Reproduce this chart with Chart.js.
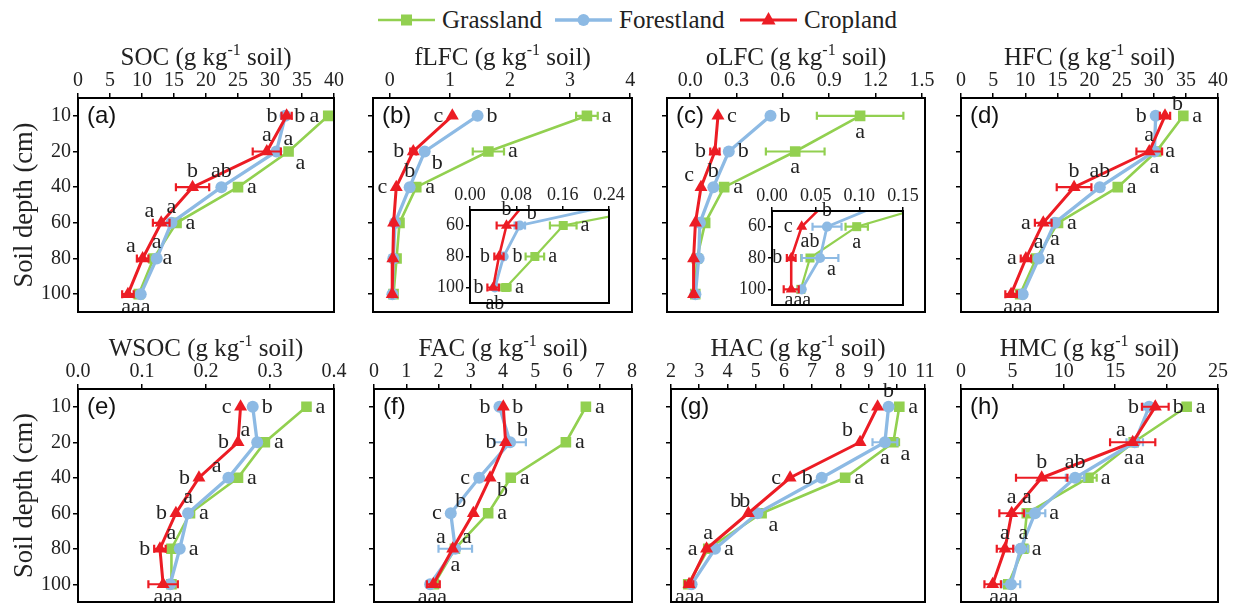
<!DOCTYPE html>
<html>
<head>
<meta charset="utf-8">
<script src="https://cdn.jsdelivr.net/npm/chart.js@4.4.0/dist/chart.umd.min.js"></script>
<style>
  body { margin: 0; background: #fff; width: 1236px; height: 605px; position: relative; overflow: hidden; }
  canvas { position: absolute; }
  #legend { position: absolute; left: 0; top: 0; }
</style>
</head>
<body>
<svg id="legend" width="1236" height="40"></svg>
<script>
// ---- data ----
const depths = [10, 20, 40, 60, 80, 100];
const landUses = ['Grassland', 'Forestland', 'Cropland'];

// every block: [Grassland, Forestland, Cropland]
const soc = [[39.1, 32.9, 25.0, 15.4, 11.8, 9.5], [32.4, 31.0, 22.4, 14.6, 12.3, 9.8], [32.6, 29.5, 17.9, 13.0, 10.1, 7.8]];
const socErr = [[0, 0, 0, 0, 0, 0], [0, 0, 0, 0, 0, 0], [0.8, 2.2, 2.6, 1.3, 0.9, 0.9]];
const socSig = [['a', 'a', 'a', 'a', 'a', 'a'], ['b', 'a', 'ab', 'a', 'a', 'a'], ['b', 'a', 'b', 'a', 'a', 'a']];

const flfc = [[3.28, 1.64, 0.44, 0.161, 0.112, 0.062], [1.46, 0.58, 0.33, 0.086, 0.058, 0.043], [1.04, 0.39, 0.107, 0.063, 0.050, 0.040]];
const flfcErr = [[0.18, 0.26, 0, 0.023, 0.016, 0.008], [0, 0, 0, 0.009, 0.004, 0], [0, 0.05, 0, 0.017, 0.008, 0.01]];
const flfcSig = [['a', 'a', 'a', 'a', 'a', 'a'], ['b', 'b', 'b', 'b', 'b', 'ab'], ['c', 'b', 'c', 'b', 'b', 'b']];

const olfc = [[1.10, 0.68, 0.22, 0.097, 0.0435, 0.033], [0.52, 0.25, 0.15, 0.063, 0.055, 0.034], [0.18, 0.16, 0.07, 0.034, 0.022, 0.022]];
const olfcErr = [[0.28, 0.19, 0, 0.0128, 0.010, 0], [0, 0, 0, 0.0166, 0.021, 0], [0, 0.03, 0, 0, 0.005, 0.0086]];
const olfcSig = [['a', 'a', 'a', 'a', 'ab', 'a'], ['b', 'b', 'b', 'b', 'a', 'a'], ['c', 'b', 'c', 'c', 'b', 'a']];

const hfc = [[34.6, 30.4, 24.4, 15.1, 11.7, 9.2], [30.3, 30.1, 21.6, 14.6, 12.1, 9.6], [31.75, 29.3, 17.6, 12.8, 10.1, 7.8]];
const hfcErr = [[0, 0, 0, 0, 0, 0], [0, 0, 0, 0, 0, 0], [0.8, 2.0, 2.7, 1.3, 0.8, 0.9]];
const hfcSig = [['a', 'a', 'a', 'a', 'a', 'a'], ['b', 'a', 'ab', 'a', 'a', 'a'], ['b', 'a', 'b', 'a', 'a', 'a']];

const wsoc = [[0.357, 0.292, 0.25, 0.175, 0.146, 0.146], [0.273, 0.28, 0.235, 0.172, 0.159, 0.144], [0.254, 0.250, 0.189, 0.153, 0.128, 0.133]];
const wsocErr = [[0, 0, 0, 0, 0, 0], [0, 0, 0, 0, 0, 0], [0, 0, 0, 0, 0.009, 0.023]];
const wsocSig = [['a', 'a', 'a', 'a', 'a', 'a'], ['b', 'a', 'a', 'a', 'a', 'a'], ['c', 'b', 'b', 'b', 'b', 'a']];

const fac = [[6.57, 5.95, 4.24, 3.54, 2.51, 1.86], [3.89, 4.22, 3.26, 2.38, 2.52, 1.74], [4.01, 4.08, 3.60, 3.08, 2.44, 1.84]];
const facErr = [[0, 0, 0, 0, 0, 0], [0, 0.49, 0, 0, 0.52, 0.1], [0, 0, 0, 0, 0, 0.2]];
const facSig = [['a', 'a', 'a', 'a', 'a', 'a'], ['b', 'b', 'c', 'c', 'a', 'a'], ['b', 'b', 'b', 'b', 'a', 'a']];

const hac = [[10.09, 9.88, 8.17, 5.21, 3.32, 2.61], [9.71, 9.58, 7.34, 5.06, 3.56, 2.73], [9.32, 8.70, 6.22, 4.74, 3.26, 2.64]];
const hacErr = [[0, 0.2, 0, 0, 0, 0], [0, 0.44, 0, 0, 0, 0], [0, 0, 0, 0, 0, 0.15]];
const hacSig = [['a', 'a', 'a', 'a', 'a', 'a'], ['b', 'a', 'b', 'b', 'a', 'a'], ['c', 'b', 'c', 'b', 'a', 'a']];

const hmc = [[21.95, 16.8, 12.4, 6.4, 6.06, 4.6], [18.3, 16.9, 11.1, 7.2, 5.8, 4.86], [18.9, 16.7, 7.85, 4.93, 4.28, 3.08]];
const hmcErr = [[0, 0, 0.8, 0, 0.5, 0], [0.6, 0.8, 0.9, 1.0, 0.7, 0.9], [1.3, 2.2, 2.5, 1.2, 0.8, 0.8]];
const hmcSig = [['a', 'a', 'a', 'a', 'a', 'a'], ['b', 'a', 'ab', 'a', 'a', 'a'], ['b', 'a', 'b', 'a', 'a', 'a']];

// tick labels
const depthLabels = depths.map(String);
const socTicks = [0, 5, 10, 15, 20, 25, 30, 35, 40];
const flfcTicks = [0, 1, 2, 3, 4];
const flfcInsetTicks = [0, 0.08, 0.16, 0.24];
const olfcTicks = [0, 0.3, 0.6, 0.9, 1.2, 1.5];
const olfcInsetTicks = [0, 0.05, 0.10, 0.15];
const hfcTicks = [0, 5, 10, 15, 20, 25, 30, 35, 40];
const wsocTicks = [0, 0.1, 0.2, 0.3, 0.4];
const facTicks = [0, 1, 2, 3, 4, 5, 6, 7, 8];
const hacTicks = [2, 3, 4, 5, 6, 7, 8, 9, 10, 11];
const hmcTicks = [0, 5, 10, 15, 20, 25];

// ---- styles ----
const COLORS = ['#92D050', '#8DBAE4', '#EC1C24'];
const P_STYLE = ['rect', 'circle', 'triangle'];
const P_RADIUS = [7.5, 6, 7.5];
const L_WIDTH = [2.6, 3.3, 3];
const SERIF = '"Liberation Serif", "Times New Roman", serif';

// letter placement: r l t b tl tr bl br b- b+ B(grouped under the row)
const E = ['', '', ''];
const panels = [
  { name: 'SOC', tag: '(a)', box: [78, 98, 256, 214], xr: [0, 40], ticks: socTicks, dec: 0, vals: soc, errs: socErr, sig: socSig, yLab: true,
    pos: [['l', 'br', 'r', 'r', 'r', 'B'], ['r', 'tr', 't', 't', 't', 'B'], ['l', 't', 't', 'tl', 'tl', 'B']] },
  { name: 'fLFC', tag: '(b)', box: [373, 98, 259, 214], xr: [-0.28, 4.03], ticks: flfcTicks, dec: 0, vals: flfc, errs: flfcErr, sig: flfcSig,
    pos: [['r', 'r', 'r', ...E], ['r', 'br', 't', ...E], ['l', 'l', 'l', ...E]],
    inset: { box: [470, 210, 139, 93], xr: [0, 0.24], ticks: flfcInsetTicks, dec: 2,
      pos: [[...E, 'r', 'r', 'r'], [...E, 'tr', 'r', 'b'], [...E, 't', 'l', 'l']] } },
  { name: 'oLFC', tag: '(c)', box: [667, 98, 258, 214], xr: [-0.15, 1.52], ticks: olfcTicks, dec: 1, vals: olfc, errs: olfcErr, sig: olfcSig,
    pos: [['b', 'b', 'r', ...E], ['r', 'r', 't', ...E], ['r', 'l', 'tl', ...E]],
    inset: { box: [772, 211, 131, 94], xr: [0, 0.15], ticks: olfcInsetTicks, dec: 2,
      pos: [[...E, 'b', 't', 'B'], [...E, 't', 'br', 'B'], [...E, 'l', 'l', 'B']] } },
  { name: 'HFC', tag: '(d)', box: [961, 98, 257, 214], xr: [0, 40], ticks: hfcTicks, dec: 0, vals: hfc, errs: hfcErr, sig: hfcSig,
    pos: [['r', 'r', 'r', 'r', 'r', 'B'], ['l', 'b', 't', 'b', 't', 'B'], ['tr', 't', 't', 'l', 'l', 'B']] },
  { name: 'WSOC', tag: '(e)', box: [78, 389, 256, 213], xr: [0, 0.4], ticks: wsocTicks, dec: 1, vals: wsoc, errs: wsocErr, sig: wsocSig, yLab: true,
    pos: [['r', 'r', 'r', 'r', 't', 'B'], ['r', 'tl', 'tl', 't', 'r', 'B'], ['l', 'l', 'l', 'l', 'l', 'B']] },
  { name: 'FAC', tag: '(f)', box: [374, 389, 258, 213], xr: [0, 8], ticks: facTicks, dec: 0, vals: fac, errs: facErr, sig: facSig,
    pos: [['r', 'r', 'r', 'r', 'tr', 'B'], ['l', 'tr', 'l', 'l', 'b', 'B'], ['r', 'l', 'br', 'tl', 'tl', 'B']] },
  { name: 'HAC', tag: '(g)', box: [671, 389, 254, 213], xr: [2, 11], ticks: hacTicks, dec: 0, vals: hac, errs: hacErr, sig: hacSig,
    pos: [['r', 'br', 'r', 'br', 't', 'B'], ['t', 'b', 'l', 'tl', 'r', 'B'], ['l', 'tl', 'l', 'tl', 'l', 'B']] },
  { name: 'HMC', tag: '(h)', box: [961, 389, 257, 213], xr: [0, 25], ticks: hmcTicks, dec: 0, vals: hmc, errs: hmcErr, sig: hmcSig,
    pos: [['r', 'b+', 'r', 't', 't', 'B'], ['l', 'b-', 't', 'r', 'r', 'B'], ['r', 'tl', 't', 't', 't', 'B']] },
];

// ---- legend ----
(function () {
  const svg = document.getElementById('legend');
  const xs = [378, 555, 740];
  let h = '';
  landUses.forEach((n, k) => {
    const x = xs[k], c = COLORS[k], y = 20;
    h += `<line x1="${x}" y1="${y}" x2="${x + 57}" y2="${y}" stroke="${c}" stroke-width="${L_WIDTH[k]}"/>`;
    const mx = x + 28.5;
    if (k === 0) h += `<rect x="${mx - 5.5}" y="${y - 5.5}" width="11" height="11" fill="${c}"/>`;
    if (k === 1) h += `<circle cx="${mx}" cy="${y}" r="6" fill="${c}"/>`;
    if (k === 2) h += `<polygon points="${mx},${y - 8} ${mx + 7},${y + 4.5} ${mx - 7},${y + 4.5}" fill="${c}"/>`;
    h += `<text x="${x + 64}" y="${y + 8}" style='font-family:${SERIF};font-size:25px' fill="#222">${n}</text>`;
  });
  svg.innerHTML = h;
})();

function drawTitle(ctx, name, cx, cy) {
  const fs = 25;
  const a = name + ' (g kg', b = '-1', c = ' soil)';
  const big = fs + 'px ' + SERIF, small = Math.round(fs * 0.62) + 'px ' + SERIF;
  ctx.font = big; const wa = ctx.measureText(a).width, wc = ctx.measureText(c).width;
  ctx.font = small; const wb = ctx.measureText(b).width;
  let x = cx - (wa + wb + wc) / 2;
  const base = cy + fs * 0.3;
  ctx.fillStyle = '#222'; ctx.textAlign = 'left'; ctx.textBaseline = 'alphabetic';
  ctx.font = big; ctx.fillText(a, x, base); x += wa;
  ctx.font = small; ctx.fillText(b, x, base - fs * 0.38); x += wb;
  ctx.font = big; ctx.fillText(c, x, base);
}

function decoPlugin(p, isInset, pos) {
  return {
    id: 'deco',
    beforeDraw(chart) {
      if (!isInset) return;
      const a = chart.chartArea, ctx = chart.ctx;
      ctx.save(); ctx.fillStyle = '#fff';
      ctx.fillRect(a.left, a.top, a.right - a.left, a.bottom - a.top);
      ctx.restore();
    },
    beforeDatasetDraw(chart, args) {
      const k = args.index, ctx = chart.ctx, xs = chart.scales.x, ys = chart.scales.y, a = chart.chartArea;
      ctx.save();
      ctx.beginPath(); ctx.rect(a.left, a.top, a.right - a.left, a.bottom - a.top); ctx.clip();
      ctx.strokeStyle = COLORS[k]; ctx.lineWidth = 2.2;
      depths.forEach((d, i) => {
        const e = p.errs[k][i];
        if (!e) return;
        const v = p.vals[k][i];
        const x1 = xs.getPixelForValue(v - e), x2 = xs.getPixelForValue(v + e), y = ys.getPixelForValue(i);
        ctx.beginPath();
        ctx.moveTo(x1, y); ctx.lineTo(x2, y);
        ctx.moveTo(x1, y - 4); ctx.lineTo(x1, y + 4);
        ctx.moveTo(x2, y - 4); ctx.lineTo(x2, y + 4);
        ctx.stroke();
      });
      ctx.restore();
    },
    afterDraw(chart) {
      const ctx = chart.ctx, a = chart.chartArea, xs = chart.scales.x, ys = chart.scales.y;
      ctx.save();
      // significance letters
      const fs = isInset ? 20 : 22;
      ctx.font = fs + 'px ' + SERIF; ctx.fillStyle = '#222'; ctx.textBaseline = 'middle';
      const groups = {};
      for (let k = 0; k < 3; k++) {
        depths.forEach((d, i) => {
          const code = pos[k][i];
          if (!code) return;
          const v = p.vals[k][i], e = p.errs[k][i];
          const px = xs.getPixelForValue(v), py = ys.getPixelForValue(i);
          const mr = 6;
          const ePix = e ? Math.abs(xs.getPixelForValue(v + e) - px) + 1 : 0;
          const ext = Math.max(mr, ePix);
          const s = p.sig[k][i];
          if (code === 'B') { (groups[i] = groups[i] || []).push([px, py, s]); return; }
          let x = px, y = py, al = 'center';
          if (code === 'r') { x = px + ext + 3; al = 'left'; }
          else if (code === 'l') { x = px - ext - 3; al = 'right'; }
          else if (code === 't') { y = py - 16; }
          else if (code === 'b') { y = py + 16; }
          else if (code === 'b-') { x = px - 6; y = py + 16; }
          else if (code === 'b+') { x = px + 6; y = py + 16; }
          else if (code === 'tr') { x = px + mr + 1; y = py - 12; al = 'left'; }
          else if (code === 'tl') { x = px - mr - 1; y = py - 12; al = 'right'; }
          else if (code === 'br') { x = px + mr + 1; y = py + 12; al = 'left'; }
          else if (code === 'bl') { x = px - mr - 1; y = py + 12; al = 'right'; }
          ctx.textAlign = al;
          ctx.fillText(s, x, y);
        });
      }
      Object.values(groups).forEach(g => {
        const cx = g.reduce((t, q) => t + q[0], 0) / g.length;
        ctx.textAlign = 'center';
        ctx.fillText(g.map(q => q[2]).join(''), cx, g[0][1] + (isInset ? 11 : 13));
      });
      // frame
      ctx.strokeStyle = '#000'; ctx.lineWidth = 2;
      ctx.strokeRect(a.left, a.top, a.right - a.left, a.bottom - a.top);
      if (!isInset) {
        drawTitle(ctx, p.name, (a.left + a.right) / 2, a.top - (a.top > 200 ? 37 : 41));
        ctx.font = '24px "Liberation Sans", Arial, sans-serif'; ctx.fillStyle = '#111';
        ctx.textAlign = 'left'; ctx.textBaseline = 'middle';
        ctx.fillText(p.tag, a.left + 9, ys.getPixelForValue(0) + 1);
        if (p.yLab) {
          ctx.save();
          ctx.translate(a.left - 53, (a.top + a.bottom) / 2);
          ctx.rotate(-Math.PI / 2);
          ctx.font = '26.5px ' + SERIF; ctx.fillStyle = '#222'; ctx.textAlign = 'center';
          ctx.fillText('Soil depth (cm)', 0, 0);
          ctx.restore();
        }
      }
      ctx.restore();
    }
  };
}

function makeChart(p, isInset) {
  const cfg = isInset ? p.inset : p;
  const m = isInset ? { l: 44, t: 30, r: 30, b: 14 } : { l: 80, t: 80, r: 45, b: 24 };
  const [bx, by, bw, bh] = cfg.box;
  const cv = document.createElement('canvas');
  cv.width = bw + m.l + m.r; cv.height = bh + m.t + m.b;
  cv.style.left = (bx - m.l) + 'px'; cv.style.top = (by - m.t) + 'px';
  document.body.appendChild(cv);
  const tickFont = { family: SERIF, size: isInset ? 18 : 20, lineHeight: 1 };
  const grid = { drawOnChartArea: false, drawTicks: true, tickLength: isInset ? 4 : 5, color: '#000', lineWidth: 1.5 };
  const yScale = {
    type: 'category', labels: depthLabels, offset: true,
    afterFit: s => { s.width = m.l; },
    ticks: { display: isInset || !!p.yLab, font: tickFont, color: '#222', padding: 2, autoSkip: false },
    grid: Object.assign({}, grid, { offset: false }), border: { display: false }
  };
  if (isInset) { yScale.min = '60'; yScale.max = '100'; }
  const scale = isInset ? 0.85 : 1;
  new Chart(cv, {
    type: 'scatter',
    data: {
      datasets: landUses.map((n, k) => ({
        label: n,
        data: depths.map((d, i) => ({ x: p.vals[k][i], y: String(d) })),
        showLine: true,
        borderColor: COLORS[k], backgroundColor: COLORS[k],
        borderWidth: L_WIDTH[k] * scale,
        pointStyle: P_STYLE[k], pointRadius: P_RADIUS[k] * scale, pointBorderWidth: 0,
        pointBackgroundColor: COLORS[k],
        order: 3 - k
      }))
    },
    options: {
      responsive: false, animation: false, devicePixelRatio: 1,
      layout: { padding: { left: 0, top: 0, right: m.r, bottom: m.b } },
      plugins: { legend: { display: false }, tooltip: { enabled: false } },
      scales: {
        x: {
          type: 'linear', position: 'top', min: cfg.xr[0], max: cfg.xr[1],
          afterBuildTicks: s => { s.ticks = cfg.ticks.map(v => ({ value: v })); },
          afterFit: s => { s.height = m.t; },
          ticks: { font: tickFont, color: '#222', padding: 2, autoSkip: false, maxRotation: 0, minRotation: 0,
            callback: v => Number(v).toFixed(cfg.dec) },
          grid: grid, border: { display: false }
        },
        y: yScale
      }
    },
    plugins: [decoPlugin(p, isInset, cfg.pos)]
  });
}

panels.forEach(p => {
  makeChart(p, false);
  if (p.inset) makeChart(p, true);
});
</script>
</body>
</html>
